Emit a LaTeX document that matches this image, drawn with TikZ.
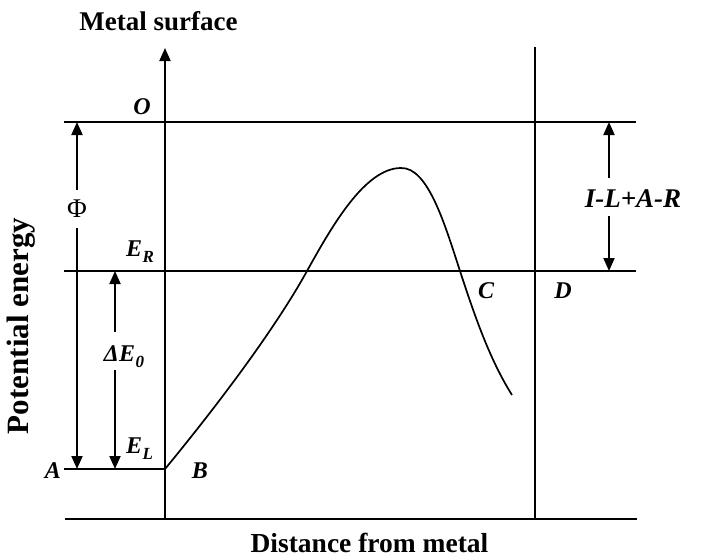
\documentclass[tikz,border=0pt]{standalone}
\usepackage{fontspec}
\setmainfont{Liberation Serif}
\usetikzlibrary{arrows.meta}
\tikzset{
  ln/.style={line width=1.9pt},
  arr/.style={line width=1.9pt,-{Triangle[length=13pt,width=11pt]}},
  lbl/.style={inner sep=0pt,font=\fontsize{24}{24}\selectfont\bfseries\itshape},
  ttl/.style={inner sep=0pt,font=\fontsize{27}{27}\selectfont\bfseries},
}
\newcommand{\subl}[1]{\kern0.5pt\raisebox{-6pt}{\fontsize{17}{17}\selectfont #1}}
\begin{document}
\begin{tikzpicture}[x=1pt,y=-1pt]
\path[use as bounding box,fill=white] (0,0) rectangle (703,558);
% coordinates
\coordinate (axbot) at (165,519);
\coordinate (axtop) at (165,48);
\coordinate (botL) at (65,519);
\coordinate (botR) at (637,519);
\coordinate (oL) at (64,122);
\coordinate (oR) at (636,122);
\coordinate (erL) at (64,271);
\coordinate (erR) at (636,271);
\coordinate (aL) at (64,469);
\coordinate (B0) at (165,469);
\coordinate (dtop) at (535,47);
\coordinate (dbot) at (535,519);
\coordinate (c1) at (307,271);
\coordinate (peak) at (401,168);
\coordinate (c2) at (460,271);
\coordinate (cend) at (512,395);
% lines
\draw[ln] (botL) -- (botR);
\draw[arr] (axbot) -- (axtop);
\draw[ln] (oL) -- (oR);
\draw[ln] (erL) -- (erR);
\draw[ln] (aL) -- (B0);
\draw[ln] (dtop) -- (dbot);
% curve
\draw[line width=1.7pt] (B0) .. controls (230,390) and (280,320) .. (c1)
  .. controls (332,226) and (365,168) .. (peak)
  .. controls (428,167) and (445,225) .. (c2)
  .. controls (475,317) and (490,360) .. (cend);
% Phi arrow
\node[inner sep=0pt,minimum height=38pt,font=\fontsize{27}{27}\selectfont] (phi) at (77,209) {Φ};
\coordinate (phitop) at (77,122);
\coordinate (phibot) at (77,469);
\draw[arr] (phi.north) -- (phitop);
\draw[arr] (phi.south) -- (phibot);
% Delta E0 arrow
\node[lbl,anchor=base] (de0) at (124,361) {ΔE\subl{0}};
\coordinate (de0a) at (115,332);
\coordinate (de0b) at (115,370);
\coordinate (de0top) at (115,271);
\coordinate (de0bot) at (115,469);
\draw[arr] (de0a) -- (de0top);
\draw[arr] (de0b) -- (de0bot);
% I-L+A-R arrow
\node[lbl,anchor=base,font=\fontsize{27}{27}\selectfont\bfseries\itshape] (ilar) at (633,207) {I-L+A-R};
\coordinate (ia) at (609,178);
\coordinate (ib) at (609,216);
\coordinate (itop) at (609,122);
\coordinate (ibot) at (609,271);
\draw[arr] (ia) -- (itop);
\draw[arr] (ib) -- (ibot);
% labels
\node[ttl,anchor=base] (ms) at (158.5,30) {Metal surface};
\node[ttl,anchor=base,font=\fontsize{27.5}{27.5}\selectfont\bfseries] (dfm) at (369.5,552) {Distance from metal};
\node[ttl,rotate=90,font=\fontsize{31}{31}\selectfont\bfseries] (pe) at (21,326) {Potential energy};
\node[lbl,anchor=base] (O) at (142,114) {O};
\node[lbl,anchor=base west] (ER) at (126,256) {E\subl{R}};
\node[lbl,anchor=base west] (EL) at (126,453) {E\subl{L}};
\node[lbl,anchor=base] (A) at (53,478) {A};
\node[lbl,anchor=base] (B) at (200,478) {B};
\node[lbl,anchor=base] (C) at (486,298) {C};
\node[lbl,anchor=base] (D) at (563,298) {D};
\end{tikzpicture}
\end{document}
